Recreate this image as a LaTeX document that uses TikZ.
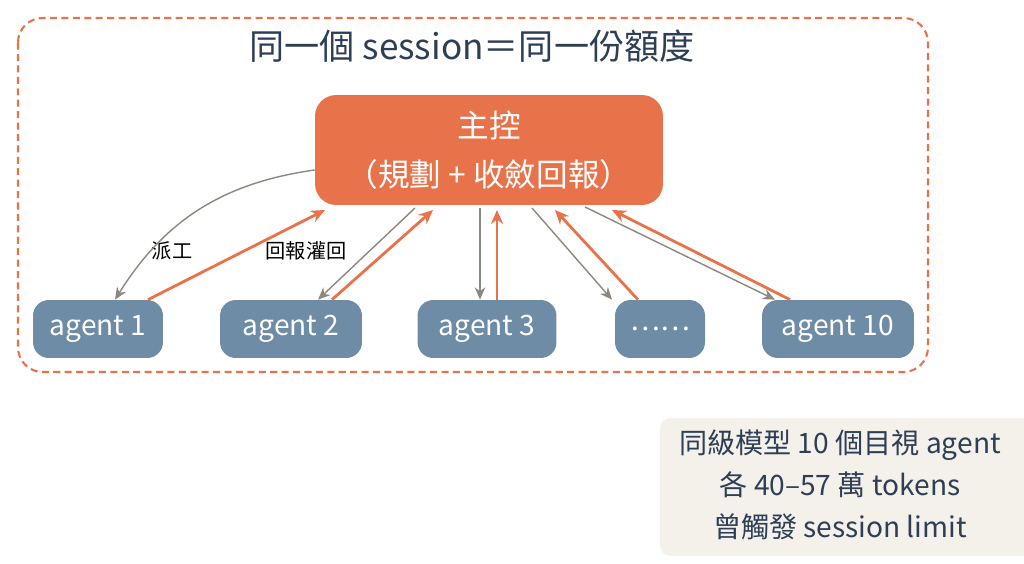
\documentclass[tikz,border=0pt]{standalone}
\usepackage{fontspec}
\setmainfont{Noto Sans CJK TC}
\usetikzlibrary{arrows.meta}
\definecolor{boss}{HTML}{E8734A}
\definecolor{worker}{HTML}{6E8CA6}
\definecolor{ink}{HTML}{2E3F55}
\definecolor{note}{HTML}{F4F0EA}
\definecolor{dispatch}{HTML}{8C887E}
\tikzset{
  agent/.style={shape=rectangle, rounded corners=9pt, fill=worker, text=white,
    minimum height=1.16cm, font=\fontsize{16}{18}\selectfont, inner sep=0pt},
  go/.style={draw=dispatch, line width=0.8pt, -{Stealth[length=7pt,width=6pt]}},
  back/.style={draw=boss, line width=1.6pt, -{Stealth[length=8pt,width=7pt]}},
}
\begin{document}
\begin{tikzpicture}[x=0.02cm,y=-0.02cm]
        \useasboundingbox (0,0) rectangle (1024,564);
        \draw[boss, line width=1.2pt, dash pattern=on 4pt off 2.5pt, rounded corners=14pt] (18,18) rectangle (928,372);
        \node[text=ink, font=\fontsize{20}{24}\selectfont] (title) at (472,46) {同一個 session＝同一份額度};

        \node[shape=rectangle, rounded corners=12pt, fill=boss, text=white, align=center,
          minimum width=6.96cm, minimum height=2.2cm, font=\fontsize{18}{28}\selectfont] (main) at (489,150) {主控\\（規劃 + 收斂回報）};

        \node[agent, minimum width=2.6cm] (A1) at (98,329) {agent 1};
        \node[agent, minimum width=2.84cm] (A2) at (291,329) {agent 2};
        \node[agent, minimum width=2.78cm] (A3) at (487,329) {agent 3};
        \node[agent, minimum width=1.8cm] (A4) at (660,329) {……};
        \node[agent, minimum width=3.04cm] (A5) at (838,329) {agent 10};

        \node[font=\fontsize{11.5}{13}\selectfont] (L1) at (172,251) {派工};
        \node[font=\fontsize{11.5}{13}\selectfont] (L2) at (306,251) {回報灌回};

        \draw[go] (main.west |- 0,170) to[bend right=25] (A1.north -| 115,0);
        \draw[back] (A1.north -| 148,0) to (325,210);
        \draw[go] (415,208) to (A2.north -| 318,0);
        \draw[back] (A2.north -| 332,0) to (433,210);
        \draw[go] (480,208) to (A3.north -| 480,0);
        \draw[back] (A3.north -| 497,0) to (497,210);
        \draw[go] (532,208) to (A4.north -| 612,0);
        \draw[back] (A4.north -| 638,0) to (555,210);
        \draw[go] (585,207) to (A5.north -| 775,0);
        \draw[back] (A5.north -| 790,0) to (612,210);

        \fill[note, rounded corners=6pt] (660,418) rectangle (1040,556);
        \node[text=ink, align=center, font=\fontsize{16}{24}\selectfont] (info) at (840,485) {同級模型 10 個目視 agent\\各 40–57 萬 tokens\\曾觸發 session limit};
\end{tikzpicture}
\end{document}
